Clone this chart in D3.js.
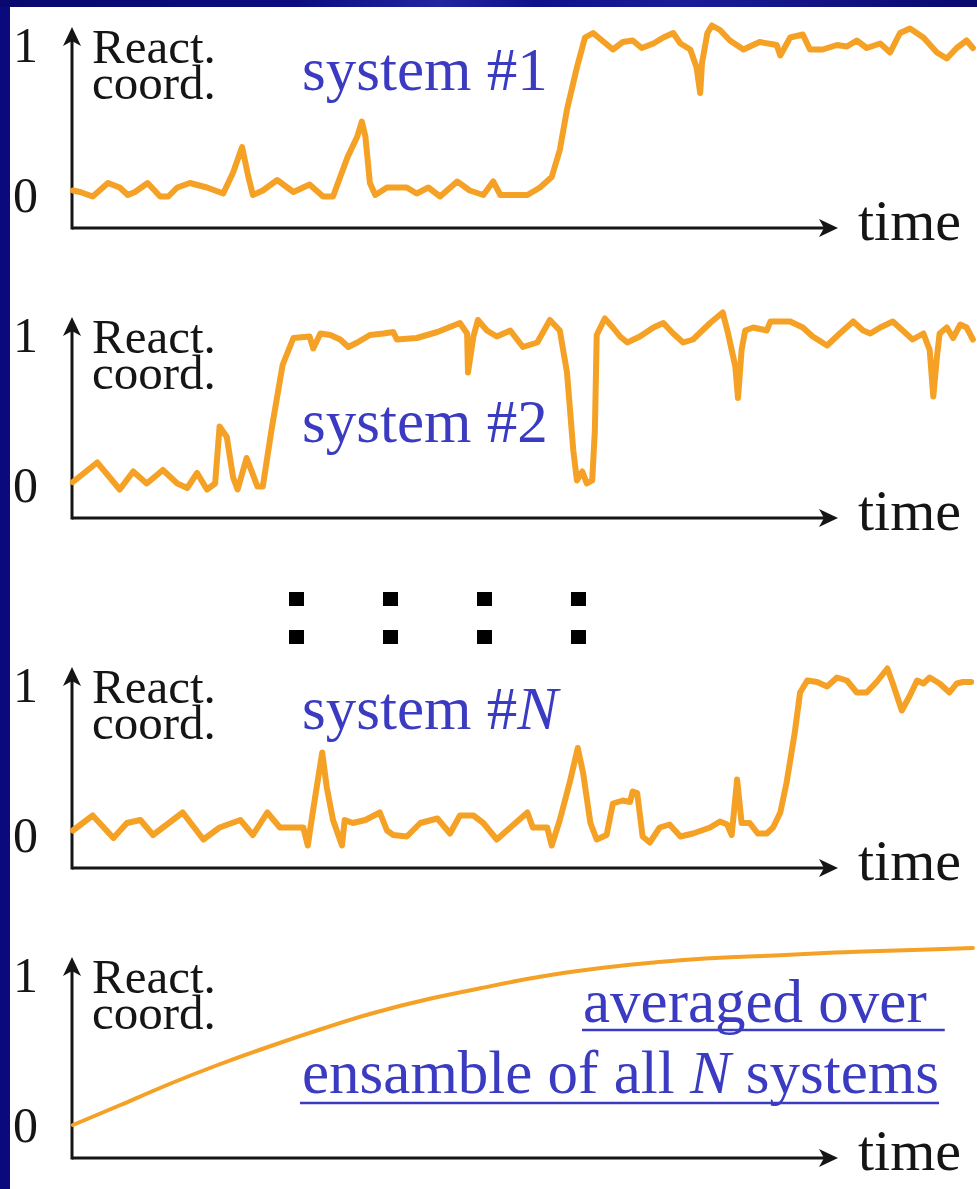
<!DOCTYPE html>
<html>
<head>
<meta charset="utf-8">
<script src="https://cdn.jsdelivr.net/npm/d3@7"></script>
<style>
  html, body { margin: 0; padding: 0; background: #0a0a78; }
  svg { display: block; }
</style>
</head>
<body>
<div id="chart"></div>
<script>
// time runs 0..100, reaction coordinate 0..1
const system1 = [
  [0.1,0.03],[0.9,0.02],[2.3,-0.01],[4.0,0.08],[5.3,0.05],[6.2,0.00],[7.0,0.02],[8.4,0.08],
  [9.8,-0.01],[10.7,-0.01],[11.7,0.05],[13.1,0.08],[15.0,0.05],[16.8,0.01],[17.9,0.15],[18.9,0.32],
  [19.6,0.12],[20.1,0.00],[21.2,0.03],[22.8,0.10],[24.6,0.02],[26.4,0.07],[27.9,-0.01],[29.0,-0.01],
  [30.6,0.25],[31.7,0.39],[32.2,0.49],[32.6,0.39],[33.1,0.08],[33.7,0.00],[35.0,0.05],[36.1,0.05],
  [37.2,0.05],[38.3,0.01],[39.6,0.05],[40.9,-0.01],[42.8,0.09],[44.2,0.03],[45.7,0.00],[46.8,0.09],
  [47.6,0.00],[50.6,0.00],[52.0,0.05],[53.3,0.12],[54.2,0.30],[55.0,0.57],[56.1,0.85],[57.0,1.05],
  [57.9,1.08],[58.9,1.03],[60.1,0.97],[61.2,1.02],[62.3,1.03],[63.3,0.98],[64.6,1.01],[65.7,1.05],
  [66.8,1.08],[67.6,1.01],[68.7,0.97],[69.4,0.85],[69.8,0.68],[70.0,0.88],[70.6,1.08],[71.1,1.13],
  [72.0,1.10],[73.1,1.03],[74.6,0.97],[76.4,1.02],[78.3,1.00],[78.7,0.93],[79.8,1.05],[81.2,1.07],
  [82.0,0.97],[83.4,0.97],[85.0,1.00],[86.1,0.99],[87.2,1.03],[88.3,0.98],[89.8,1.01],[90.9,0.95],
  [92.0,1.08],[93.1,1.11],[94.6,1.05],[96.1,0.95],[97.2,0.91],[98.3,0.98],[99.4,1.03],[100.1,0.98]
];

const system2 = [
  [0.1,0.02],[2.8,0.15],[4.2,0.05],[5.3,-0.03],[6.8,0.09],[8.3,0.01],[10.1,0.10],[11.7,0.01],
  [12.8,-0.02],[13.9,0.08],[15.0,-0.03],[15.9,0.01],[16.4,0.39],[17.2,0.32],[17.9,0.05],[18.4,-0.03],
  [19.4,0.18],[20.6,-0.01],[21.2,-0.01],[22.2,0.38],[23.4,0.80],[24.6,0.98],[26.4,0.99],[26.8,0.91],
  [27.6,1.01],[28.7,1.00],[29.8,0.97],[30.7,0.92],[31.7,0.95],[33.1,1.00],[34.6,1.01],[35.7,1.02],
  [36.1,0.97],[38.3,0.98],[40.6,1.02],[43.1,1.08],[43.9,1.01],[44.0,0.75],[44.6,0.99],[45.1,1.10],
  [46.1,1.03],[47.2,0.99],[48.7,1.03],[50.1,0.92],[51.7,0.95],[53.1,1.10],[54.2,1.03],[55.0,0.75],
  [55.7,0.23],[56.1,0.03],[56.7,0.09],[57.2,0.01],[57.8,0.03],[58.1,0.37],[58.3,1.00],[59.2,1.11],
  [60.1,1.05],[60.9,0.99],[61.7,0.95],[63.1,0.99],[64.6,1.05],[65.7,1.08],[66.8,1.01],[67.9,0.95],
  [69.0,0.97],[70.9,1.08],[72.3,1.15],[72.9,1.01],[73.7,0.79],[74.0,0.58],[74.4,0.90],[74.8,1.03],
  [75.7,1.05],[77.2,1.03],[77.6,1.09],[79.8,1.09],[81.2,1.05],[82.3,0.99],[83.9,0.93],[85.3,1.01],
  [86.8,1.09],[87.9,1.03],[88.7,1.01],[89.8,1.05],[91.2,1.09],[92.3,1.03],[93.4,0.97],[94.6,1.01],
  [95.3,0.90],[95.7,0.59],[96.1,0.85],[96.4,1.01],[97.2,1.05],[97.9,0.98],[98.7,1.07],[99.4,1.05],
  [100.1,0.97]
];

const systemN = [
  [0.1,0.03],[2.3,0.13],[4.6,-0.02],[6.1,0.08],[7.6,0.10],[9.0,0.00],[12.3,0.15],[14.6,-0.03],
  [16.4,0.05],[18.7,0.10],[20.1,0.00],[21.7,0.15],[23.1,0.05],[25.7,0.05],[26.2,-0.07],[26.8,0.17],
  [27.8,0.55],[28.3,0.32],[29.0,0.10],[30.0,-0.07],[30.3,0.10],[31.2,0.08],[32.6,0.10],[34.2,0.15],
  [35.0,0.03],[35.7,0.00],[37.2,-0.01],[38.7,0.08],[40.6,0.11],[42.0,0.01],[43.1,0.13],[44.6,0.13],
  [45.7,0.08],[47.2,-0.03],[48.7,0.05],[50.6,0.15],[51.2,0.05],[52.8,0.05],[53.3,-0.07],[54.2,0.10],
  [55.3,0.35],[56.2,0.58],[56.8,0.41],[57.6,0.08],[58.3,-0.03],[59.4,0.00],[60.1,0.21],[61.2,0.23],
  [62.0,0.22],[62.3,0.29],[62.8,0.28],[63.4,-0.01],[64.2,-0.05],[65.3,0.05],[66.4,0.07],[67.6,-0.01],
  [69.0,0.01],[70.9,0.05],[72.0,0.09],[72.8,0.07],[73.3,0.00],[73.9,0.37],[74.4,0.08],[75.3,0.08],
  [76.2,0.01],[77.2,0.01],[77.9,0.05],[78.7,0.15],[79.4,0.35],[80.3,0.68],[80.9,0.95],[81.7,1.03],
  [82.8,1.02],[83.9,0.99],[85.0,1.05],[86.1,1.03],[87.2,0.95],[88.3,0.95],[89.4,1.02],[90.6,1.11],
  [91.2,1.01],[92.2,0.83],[93.1,0.93],[93.9,1.03],[94.6,1.01],[95.3,1.05],[96.4,1.01],[97.5,0.95],
  [98.3,1.01],[99.0,1.02],[99.9,1.02]
];

const ensembleAvg = [
  [0.1,0.00],[5.3,0.13],[10.6,0.27],[16.1,0.40],[21.7,0.52],[27.2,0.63],[32.8,0.74],[40.1,0.85],
  [45.3,0.91],[50.9,0.98],[56.4,1.03],[62.0,1.07],[67.6,1.10],[73.1,1.12],[78.7,1.13],[84.2,1.15],
  [89.8,1.16],[95.3,1.17],[100.1,1.18]
];

const yTickValues = [0, 1];
const axisTitle = ["React.", "coord."];
const timeLabel = "time";

const W = 977, H = 1189;
const orange = "#f5a125", blue = "#3b3bc2", ink = "#151515";
const serif = "'Liberation Serif', 'Times New Roman', serif";

const panels = [
  {data: system1, axisY: 228, label: [{t: "system #1"}], labelY: -138},
  {data: system2, axisY: 518, label: [{t: "system #2"}], labelY: -76},
  {data: systemN, axisY: 868, label: [{t: "system #"}, {t: "N", italic: true}], labelY: -139},
  {data: ensembleAvg, axisY: 1158, smooth: true}
];

let svg = d3.select("#chart").append("svg")
    .attr("width", W)
    .attr("height", H);

let defs = svg.append("defs");
let grad = defs.append("linearGradient").attr("id", "topband");
[[0, "#08086e"], [0.3, "#0c0c80"], [0.45, "#2424a0"], [0.55, "#10108a"], [0.7, "#1c1c98"], [1, "#08086e"]]
    .forEach(function (s) {
        grad.append("stop").attr("offset", s[0]).attr("stop-color", s[1]);
    });

let frameX = 10, frameY = 7;
svg.append("rect").attr("width", W).attr("height", H).attr("fill", "#0a0a7c");
svg.append("rect").attr("width", W).attr("height", frameY).attr("fill", "url(#topband)");
svg.append("rect").attr("x", frameX).attr("y", frameY)
    .attr("width", W - frameX).attr("height", H - frameY).attr("fill", "#fff");

let x = d3.scaleLinear().domain([0, 100]).range([72, 972]);
let axisX0 = 72, arrowTipX = 838, yAxisLen = 201;

// barbed arrow head pointing right, tip at origin
const arrowPath = "M0,0 L-19,-9 L-14,0 L-19,9 Z";

panels.forEach(function (p) {
    let g = svg.append("g");
    let y = d3.scaleLinear().domain([0, 1]).range([p.axisY - 33, p.axisY - 183]);

    // tick labels 0 / 1
    let yAxis = g.append("g")
        .attr("transform", "translate(" + axisX0 + ",0)")
        .call(d3.axisLeft(y).tickValues(yTickValues).tickFormat(d3.format("d")).tickSize(0).tickPadding(34));
    yAxis.select(".domain").remove();
    yAxis.selectAll("text")
        .attr("font-family", serif)
        .attr("font-size", 50)
        .attr("fill", ink);

    // axis lines with arrows
    g.append("line")
        .attr("x1", axisX0).attr("x2", arrowTipX - 14)
        .attr("y1", p.axisY).attr("y2", p.axisY)
        .attr("stroke", ink).attr("stroke-width", 3);
    g.append("path").attr("d", arrowPath).attr("fill", ink)
        .attr("transform", "translate(" + arrowTipX + "," + p.axisY + ")");
    g.append("line")
        .attr("x1", axisX0).attr("x2", axisX0)
        .attr("y1", p.axisY + 1.5).attr("y2", p.axisY - yAxisLen + 14)
        .attr("stroke", ink).attr("stroke-width", 3);
    g.append("path").attr("d", arrowPath).attr("fill", ink)
        .attr("transform", "translate(" + axisX0 + "," + (p.axisY - yAxisLen) + ") rotate(-90)");

    // axis title, two lines in one text element
    let title = g.append("text")
        .attr("y", p.axisY - 165)
        .attr("font-family", serif).attr("font-size", 49).attr("fill", ink);
    axisTitle.forEach(function (t, i) {
        title.append("tspan").attr("x", 92).attr("dy", i ? 36 : 0).text(t);
    });
    g.append("text")
        .attr("x", 858).attr("y", p.axisY + 12)
        .attr("font-family", serif).attr("font-size", 58).attr("fill", ink)
        .text(timeLabel);

    // the trajectory
    let line = d3.line()
        .x(function (d) { return x(d[0]); })
        .y(function (d) { return y(d[1]); })
        .curve(p.smooth ? d3.curveBasis : d3.curveLinear);
    g.append("path")
        .datum(p.data)
        .attr("fill", "none")
        .attr("stroke", orange)
        .attr("stroke-width", p.smooth ? 4 : 6)
        .attr("stroke-linejoin", "round")
        .attr("stroke-linecap", "round")
        .attr("d", line);

    if (p.label) {
        let txt = g.append("text")
            .attr("x", 302).attr("y", p.axisY + p.labelY)
            .attr("font-family", serif).attr("font-size", 61).attr("fill", blue);
        p.label.forEach(function (s) {
            txt.append("tspan").attr("font-style", s.italic ? "italic" : null).text(s.t);
        });
    }
});

// vertical ellipsis between system #2 and system #N
[297, 391, 485, 579].forEach(function (cx) {
    [599, 637].forEach(function (cy) {
        svg.append("rect")
            .attr("x", cx - 8).attr("y", cy - 7)
            .attr("width", 15).attr("height", 14)
            .attr("fill", "#000");
    });
});

// underlined caption of the averaged panel
let capY = panels[3].axisY;
let cap1 = svg.append("text")
    .attr("x", 583).attr("y", capY - 136)
    .attr("font-family", serif).attr("font-size", 61).attr("fill", blue)
    .text("averaged over");
let cap2 = svg.append("text")
    .attr("x", 302).attr("y", capY - 65)
    .attr("font-family", serif).attr("font-size", 61).attr("fill", blue);
cap2.append("tspan").text("ensamble of all ");
cap2.append("tspan").attr("font-style", "italic").text("N");
cap2.append("tspan").text(" systems");

let w1 = cap1.node().getComputedTextLength();
let w2 = cap2.node().getComputedTextLength();
svg.append("line").attr("x1", 582).attr("x2", 583 + w1 + 18)
    .attr("y1", capY - 128).attr("y2", capY - 128)
    .attr("stroke", blue).attr("stroke-width", 2.5);
svg.append("line").attr("x1", 300).attr("x2", 302 + w2)
    .attr("y1", capY - 55).attr("y2", capY - 55)
    .attr("stroke", blue).attr("stroke-width", 2.5);
</script>
</body>
</html>
